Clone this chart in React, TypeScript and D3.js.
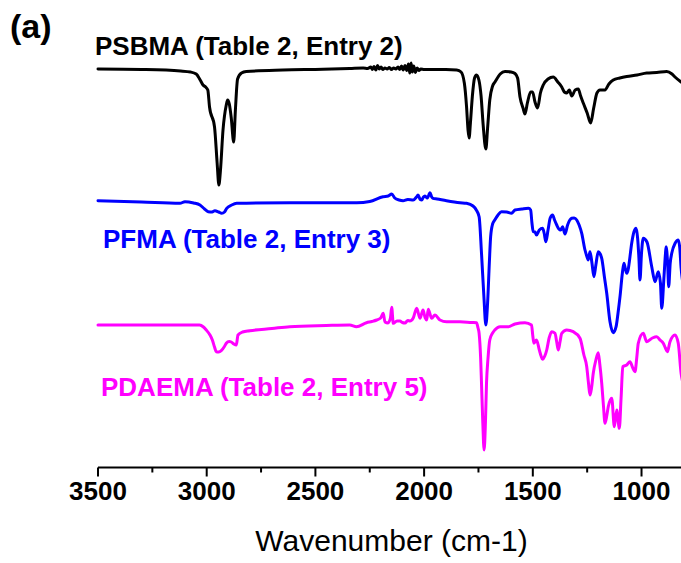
import React from "react";
import * as d3 from "d3";

// FTIR spectra, [wavenumber (cm-1), offset transmittance (a.u.)]
const psbma: [number, number][] = [
  [3500, 399], [3300, 398.5], [3120, 397], [3075, 396], [3048, 394], [3030, 388], [3017, 383],
  [3005, 381], [2995, 378], [2987, 361], [2964, 341], [2952, 305], [2944, 283], [2937, 297],
  [2925, 338], [2910, 363], [2904, 368], [2896, 364], [2887, 350], [2876, 326], [2868, 358],
  [2858, 389], [2840, 395], [2818, 396.5], [2650, 398], [2465, 398.7], [2342, 399.5], [2280, 400],
  [2260, 399.5], [2245, 401], [2238, 398.5], [2230, 401.5], [2222, 398], [2214, 402.5], [2206, 399],
  [2198, 401], [2190, 398.5], [2180, 400], [2170, 399], [2160, 400.5], [2150, 398.5], [2140, 400],
  [2130, 399], [2120, 401], [2112, 398.5], [2104, 402], [2096, 398], [2088, 402.5], [2080, 397.5],
  [2072, 404], [2066, 395], [2060, 405], [2054, 396], [2048, 402], [2040, 395.5], [2032, 400],
  [2024, 397.5], [2015, 399], [2000, 398.5], [1900, 398.5], [1850, 398], [1830, 396], [1815, 385],
  [1805, 362], [1798, 338], [1793, 330], [1787, 345], [1778, 372], [1768, 390], [1759, 393],
  [1748, 388], [1738, 372], [1728, 342], [1716, 319], [1708, 340], [1698, 368], [1685, 382],
  [1674, 386], [1650, 394], [1628, 396.5], [1600, 396], [1582, 394.5], [1570, 390], [1559, 371],
  [1545, 360], [1536, 354], [1525, 365], [1510, 376], [1501, 376], [1490, 366], [1478, 360],
  [1465, 375], [1452, 383], [1430, 389], [1406, 391], [1385, 386], [1367, 381], [1355, 376],
  [1344, 375], [1332, 378], [1321, 372], [1305, 378], [1291, 379], [1280, 372], [1268, 365],
  [1250, 355], [1234, 345], [1220, 360], [1205, 375], [1191, 378], [1168, 378], [1150, 384],
  [1130, 388], [1100, 390], [1068, 391.5], [1020, 393], [976, 395], [930, 395.5], [884, 396.5],
  [860, 394], [846, 391], [818, 386], [805, 384],
];

const pfma: [number, number][] = [
  [3500, 267.3], [3300, 266], [3123, 264.7], [3100, 266.3], [3060, 265], [3031, 263], [3010, 259],
  [2993, 256.3], [2975, 256], [2962, 257.3], [2945, 256], [2931, 254.7], [2918, 256], [2908, 259.7],
  [2885, 263], [2862, 264.7], [2617, 265.3], [2310, 265.3], [2250, 266.5], [2189, 271.3],
  [2165, 272], [2149, 274], [2135, 270], [2115, 268], [2097, 267.3], [2075, 268.5], [2050, 268],
  [2035, 271], [2028, 273], [2018, 268.5], [2011, 268], [2003, 271], [1996, 272], [1985, 270],
  [1973, 275.3], [1965, 271], [1959, 269.7], [1940, 269], [1897, 267.3], [1835, 265.3],
  [1805, 264.7], [1775, 262], [1760, 258], [1747, 251.3], [1736, 214.7], [1725, 171.3],
  [1716, 143], [1708, 165], [1700, 205], [1694, 231.3], [1685, 244], [1675, 248], [1660, 253],
  [1644, 256.3], [1620, 256], [1598, 254.7], [1582, 258], [1550, 259], [1520, 259.7], [1510, 258],
  [1504, 245], [1498, 236.3], [1490, 236], [1483, 233], [1470, 238], [1455, 239.7], [1448, 235],
  [1440, 226.3], [1430, 238], [1420, 250], [1409, 253], [1400, 248], [1390, 243], [1380, 239],
  [1372, 238], [1363, 241.3], [1352, 234], [1340, 243], [1321, 249.7], [1310, 250], [1298, 248],
  [1287, 243], [1275, 234.7], [1260, 218], [1252, 212], [1245, 208], [1237, 216.3], [1228, 205],
  [1219, 191.3], [1210, 203], [1199, 216.3], [1190, 214], [1183, 209.7], [1170, 190],
  [1160, 174.7], [1145, 146.3], [1130, 135.3], [1117, 141.3], [1108, 155], [1099, 171.3],
  [1088, 195], [1081, 204.7], [1074, 199], [1068, 194.7], [1060, 200], [1056, 206.3], [1045, 225],
  [1035, 236], [1025, 239.7], [1018, 230], [1012, 210], [1007, 188], [1000, 215], [992, 229.7],
  [975, 226], [953, 201.3], [938, 186.3], [923, 196.3], [913, 185], [907, 159.7], [897, 190],
  [890, 214], [887, 221.3], [880, 205], [875, 181.3], [868, 205], [861, 214.7], [845, 225],
  [831, 228], [824, 220], [818, 200], [810, 185],
];

const pdaema: [number, number][] = [
  [3500, 143], [3300, 143], [3033, 143], [3015, 141], [3002, 138], [2985, 133], [2974, 128],
  [2964, 121], [2956, 116.3], [2945, 116], [2933, 117.3], [2920, 121], [2910, 124.7],
  [2897, 126.5], [2887, 126], [2875, 124], [2864, 123], [2856, 133], [2835, 136], [2802, 137.3],
  [2700, 139.5], [2618, 141.3], [2450, 142.5], [2342, 143], [2311, 141.3], [2265, 145.3],
  [2240, 146.5], [2218, 148], [2200, 150], [2188, 154.7], [2180, 146], [2166, 145], [2155, 150],
  [2149, 160.7], [2142, 144.7], [2125, 147], [2111, 147], [2100, 145.5], [2088, 145],
  [2075, 147.5], [2065, 147], [2050, 150], [2034, 159.7], [2019, 149.7], [2005, 158], [1995, 150],
  [1988, 148], [1981, 158.7], [1965, 149.7], [1950, 153], [1927, 148], [1897, 146.3],
  [1835, 146.3], [1780, 145.5], [1759, 145.3], [1752, 140], [1747, 134.7], [1740, 110],
  [1736, 84.7], [1730, 45], [1724, 18], [1718, 45], [1713, 84.7], [1706, 110], [1698, 128],
  [1685, 135], [1675, 138], [1651, 141.3], [1613, 141.3], [1582, 144], [1536, 145.3], [1506, 143],
  [1500, 132], [1495, 124.7], [1483, 128], [1470, 118], [1462, 112], [1455, 108.7], [1445, 112],
  [1436, 118], [1425, 130], [1413, 136.3], [1398, 134.7], [1390, 126], [1383, 118], [1375, 126],
  [1367, 134.7], [1344, 138], [1314, 136.3], [1283, 129.7], [1265, 113], [1252, 101.3],
  [1244, 85], [1237, 73], [1230, 80], [1222, 94.7], [1210, 108], [1199, 115.3], [1192, 104],
  [1183, 84.7], [1175, 62], [1168, 44.7], [1160, 52], [1153, 61.3], [1137, 69.7], [1125, 41.3],
  [1114, 58], [1102, 39.7], [1094, 70], [1086, 101.3], [1068, 103], [1053, 106.3], [1040, 100],
  [1030, 96.3], [1022, 110], [1015, 124.7], [992, 134.7], [976, 126.3], [950, 130], [930, 131.3],
  [915, 128], [900, 124.7], [890, 120], [881, 116.3], [869, 126.3], [846, 133], [831, 124.7],
  [818, 94.7], [810, 85],
];

const spectrumNames = ["PSBMA (Table 2, Entry 2)", "PFMA (Table 2, Entry 3)", "PDAEMA (Table 2, Entry 5)"];
const spectrumColors = ["#000000", "#0000ff", "#ff00ff"];

const majorTicks = [3500, 3000, 2500, 2000, 1500, 1000];
const minorTicks = [3250, 2750, 2250, 1750, 1250];

const W = 681;
const H = 563;
const FONT = "'Liberation Sans', Arial, Helvetica, sans-serif";

export default function App() {
  const x = d3.scaleLinear().domain([3500, 800]).range([98, 685]);
  const y = d3.scaleLinear().domain([0, 420]).range([468, 48]);
  const axisY = 467.5;

  const line = d3
    .line<[number, number]>()
    .x((d) => x(d[0]))
    .y((d) => y(d[1]))
    .curve(d3.curveMonotoneX);

  const series = [psbma, pfma, pdaema];
  const labelPos = [
    { x: 95, y: 55 },
    { x: 103, y: 248 },
    { x: 101, y: 396 },
  ];

  return (
    <svg
      width={W}
      height={H}
      viewBox={`0 0 ${W} ${H}`}
      style={{ position: "absolute", left: 0, top: 0, background: "#fff" }}
      fontFamily={FONT}
    >
      <rect width={W} height={H} fill="#fff" />
      <text x={10} y={38} fontSize={34} fontWeight="bold" fill="#000">
        (a)
      </text>

      {series.map((s, i) => (
        <path
          key={spectrumNames[i]}
          d={line(s) ?? ""}
          fill="none"
          stroke={spectrumColors[i]}
          strokeWidth={3}
          strokeLinejoin="round"
          strokeLinecap="round"
        />
      ))}

      {spectrumNames.map((name, i) => (
        <text
          key={name}
          x={labelPos[i].x}
          y={labelPos[i].y}
          fontSize={26}
          fontWeight="bold"
          fill={spectrumColors[i]}
        >
          {name}
        </text>
      ))}

      <g>
        <line x1={x(3500)} x2={x(800)} y1={axisY} y2={axisY} stroke="#000" strokeWidth={2} />
        {majorTicks.map((t) => (
          <g key={t}>
            <line x1={x(t)} x2={x(t)} y1={axisY} y2={axisY + 9} stroke="#000" strokeWidth={2} />
            <text x={x(t)} y={500} textAnchor="middle" fontSize={26} fontWeight="bold" fill="#000">
              {t}
            </text>
          </g>
        ))}
        {minorTicks.map((t) => (
          <line key={t} x1={x(t)} x2={x(t)} y1={axisY} y2={axisY + 5} stroke="#000" strokeWidth={2} />
        ))}
        <text x={x(2150)} y={551} textAnchor="middle" fontSize={30} fill="#000">
          Wavenumber (cm-1)
        </text>
      </g>
    </svg>
  );
}
